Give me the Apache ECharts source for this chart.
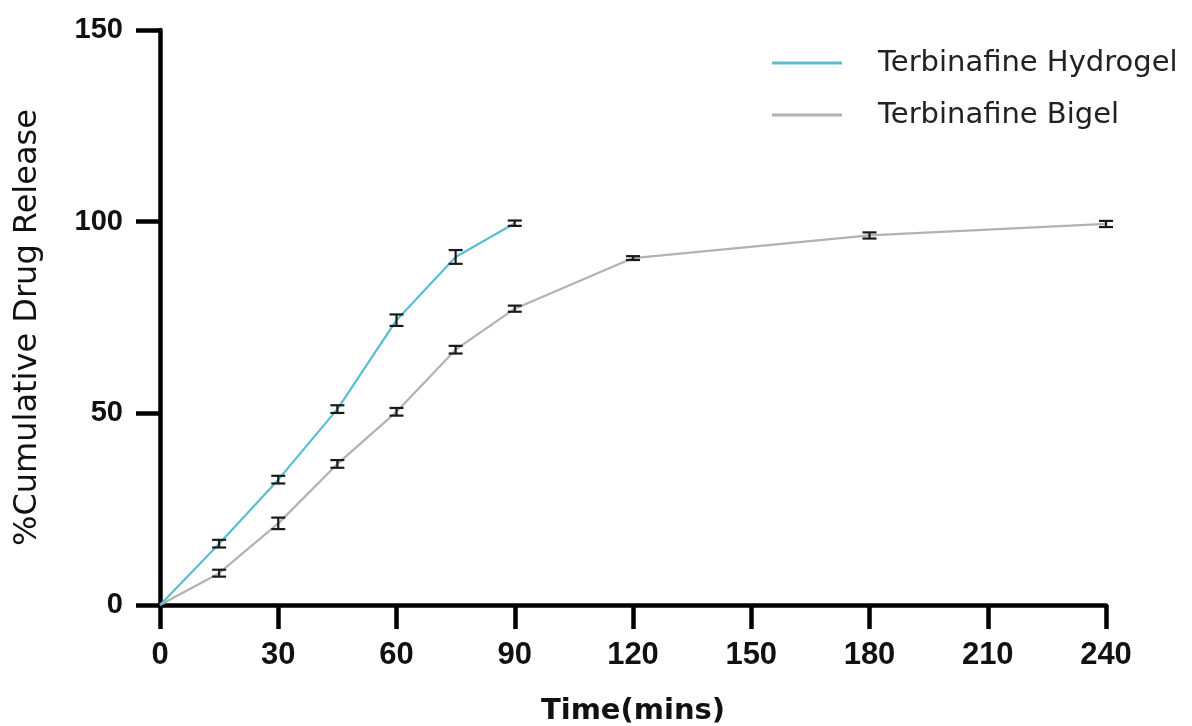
<!DOCTYPE html>
<html><head><meta charset="utf-8">
<script src="https://cdn.jsdelivr.net/npm/echarts@6/dist/echarts.min.js"></script>
<style>html,body{margin:0;padding:0;background:#fff}#c{width:1192px;height:726px}</style>
</head><body><div id="c"></div>
<script>
const hydrogelTimes = [0, 15, 30, 45, 60, 75, 90];
const hydrogelValues = [0, 16.0, 32.7, 51.1, 74.3, 90.8, 99.6];
const hydrogelErrors = [0, 1.0, 1.0, 1.0, 1.5, 1.8, 0.7];
const bigelTimes = [0, 15, 30, 45, 60, 75, 90, 120, 180, 240];
const bigelValues = [0, 8.3, 21.3, 36.8, 50.4, 66.6, 77.3, 90.5, 96.4, 99.4];
const bigelErrors = [0, 0.9, 1.5, 1.0, 1.0, 1.0, 0.8, 0.5, 0.8, 0.8];
const seriesNames = ['Terbinafine Hydrogel', 'Terbinafine Bigel'];

function pairs(t, v) { return t.map((x, i) => [x, v[i]]); }
function errData(t, v, e) { return t.map((x, i) => [x, v[i] - e[i], v[i] + e[i]]).filter((d, i) => e[i] > 0); }
function errRender(params, api) {
  const x = api.value(0);
  const lo = api.coord([x, api.value(1)]);
  const hi = api.coord([x, api.value(2)]);
  const w = 7;
  const st = { stroke: '#1a1a1a', lineWidth: 2.2 };
  return { type: 'group', children: [
    { type: 'line', shape: { x1: lo[0], y1: lo[1], x2: hi[0], y2: hi[1] }, style: st },
    { type: 'line', shape: { x1: lo[0] - w, y1: lo[1], x2: lo[0] + w, y2: lo[1] }, style: st },
    { type: 'line', shape: { x1: hi[0] - w, y1: hi[1], x2: hi[0] + w, y2: hi[1] }, style: st }
  ]};
}
const chart = echarts.init(document.getElementById('c'));
chart.setOption({
  animation: false,
  grid: { left: 160, right: 86, top: 30, bottom: 121, containLabel: false, outerBoundsMode: 'none' },
  legend: {
    left: 767, top: 42, orient: 'vertical', itemGap: 20, itemWidth: 70, itemHeight: 3,
    icon: 'rect',
    textStyle: { fontFamily: 'DejaVu Sans', fontSize: 29, lineHeight: 32, color: '#222', padding: [0, 0, 0, 31] },
    data: seriesNames
  },
  xAxis: {
    type: 'value', min: 0, max: 240, interval: 30,
    name: 'Time(mins)', nameLocation: 'middle', nameGap: 92,
    nameTextStyle: { fontFamily: 'DejaVu Sans', fontWeight: 'bold', fontSize: 29, color: '#111' },
    axisLine: { show: true, onZero: false, lineStyle: { color: '#000', width: 4.5 } },
    axisTick: { show: true, length: 24, lineStyle: { color: '#000', width: 4.5 } },
    axisLabel: { margin: 35, fontFamily: 'Liberation Sans', fontWeight: 'bold', fontSize: 31, color: '#111' },
    splitLine: { show: false }
  },
  yAxis: {
    type: 'value', min: 0, max: 150, interval: 50,
    name: '%Cumulative Drug Release', nameLocation: 'middle', nameGap: 116, nameRotate: 90,
    nameTextStyle: { fontFamily: 'DejaVu Sans', fontSize: 32, color: '#111', padding: [0, 20, 0, 0] },
    axisLine: { show: true, lineStyle: { color: '#000', width: 4.5 } },
    axisTick: { show: true, length: 24, lineStyle: { color: '#000', width: 4.5 } },
    axisLabel: { margin: 37, fontFamily: 'Liberation Sans', fontWeight: 'bold', fontSize: 29, color: '#111' },
    splitLine: { show: false }
  },
  series: [
    { name: seriesNames[0], type: 'line', data: pairs(hydrogelTimes, hydrogelValues), showSymbol: false, symbol: 'none',
      lineStyle: { color: '#5bbdd0', width: 2.2 }, itemStyle: { color: '#5bbdd0' }, z: 3 },
    { name: seriesNames[1], type: 'line', data: pairs(bigelTimes, bigelValues), showSymbol: false, symbol: 'none',
      lineStyle: { color: '#b2b2b2', width: 2.2 }, itemStyle: { color: '#b2b2b2' }, z: 2 },
    { type: 'custom', renderItem: errRender, data: errData(hydrogelTimes, hydrogelValues, hydrogelErrors), encode: { x: 0, y: [1, 2] }, z: 5, silent: true },
    { type: 'custom', renderItem: errRender, data: errData(bigelTimes, bigelValues, bigelErrors), encode: { x: 0, y: [1, 2] }, z: 5, silent: true }
  ]
});
</script></body></html>
